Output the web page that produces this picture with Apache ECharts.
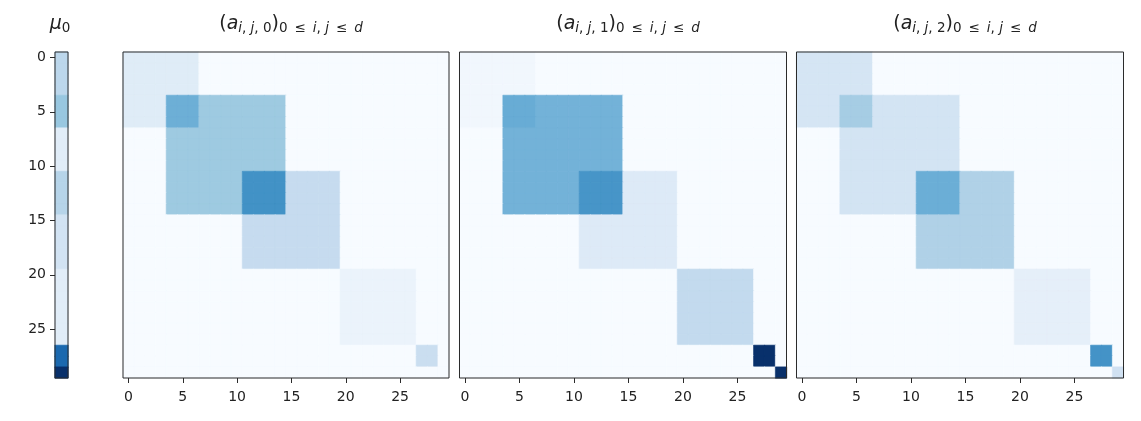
<!DOCTYPE html>
<html>
<head>
<meta charset="utf-8">
<script src="https://cdn.jsdelivr.net/npm/echarts@6/dist/echarts.min.js"></script>
<style>
  html, body { margin: 0; padding: 0; background: #fff; }
  #main { width: 1141px; height: 421px; }
</style>
</head>
<body>
<div id="main"></div>
<script>
// indices 0..29 (d = 29)
const indices = ['0','1','2','3','4','5','6','7','8','9','10','11','12','13','14',
  '15','16','17','18','19','20','21','22','23','24','25','26','27','28','29'];

// diagonal blocks [start, end] shared by all panels
const blockStart = [0, 4, 11, 20, 27, 29];
const blockEnd = [6, 14, 19, 26, 28, 29];

// intensity of each block (0..1 on the Blues scale)
const mu0Block = [0.28, 0.11, 0.19, 0.11, 0.78, 1.0];
const a0Block = [0.12, 0.375, 0.25, 0.06, 0.23, 0.0];
const a1Block = [0.03, 0.48, 0.13, 0.26, 1.0, 1.0];
const a2Block = [0.17, 0.18, 0.32, 0.09, 0.62, 0.2];

const blues = ['#f7fbff', '#deebf7', '#c6dbef', '#9ecae1', '#6baed6',
  '#4292c6', '#2171b5', '#08519c', '#08306b'];

function inBlock(i, k) {
  return i >= blockStart[k] && i <= blockEnd[k];
}

// same colour as the fill on a thin border, hides seams between cells
function cell(x, y, v) {
  return {
    value: [x, y, v],
    itemStyle: { borderColor: echarts.color.lerp(Math.min(v, 1), blues), borderWidth: 0.6 }
  };
}

// a matrix is the sum of its (overlapping) blocks
function matrixData(w) {
  var data = [];
  for (var i = 0; i < indices.length; i++) {
    for (var j = 0; j < indices.length; j++) {
      var v = 0;
      for (var k = 0; k < w.length; k++) {
        if (inBlock(i, k) && inBlock(j, k)) v += w[k];
      }
      data.push(cell(j, i, v));
    }
  }
  return data;
}

function vectorData(w) {
  var data = [];
  for (var i = 0; i < indices.length; i++) {
    var v = 0;
    for (var k = 0; k < w.length; k++) {
      if (inBlock(i, k)) v += w[k];
    }
    data.push(cell(0, i, v));
  }
  return data;
}

const frame = '#2b2b2b';
const font = 'DejaVu Sans';

var grids = [
  { left: 55, top: 52, width: 13, height: 326 },
  { left: 123, top: 52, width: 326, height: 326 },
  { left: 459.5, top: 52, width: 327, height: 326 },
  { left: 796.5, top: 52, width: 327, height: 326 }
].map(function (g) {
  return Object.assign({ show: true, z: 10, borderColor: frame, borderWidth: 1, backgroundColor: 'transparent' }, g);
});

var tickLabel = { interval: 4, margin: 9, fontSize: 14, color: '#222', fontFamily: font };

var xAxes = [{
  type: 'category', gridIndex: 0, data: ['0'],
  axisLine: { show: false }, axisTick: { show: false }, axisLabel: { show: false }, splitLine: { show: false }
}];
var yAxes = [{
  type: 'category', gridIndex: 0, data: indices, inverse: true, z: 10,
  axisLine: { show: false },
  axisTick: { show: true, interval: 4, alignWithLabel: true, length: 5, lineStyle: { color: frame } },
  axisLabel: tickLabel,
  splitLine: { show: false }
}];
for (var p = 1; p <= 3; p++) {
  xAxes.push({
    type: 'category', gridIndex: p, data: indices, position: 'bottom', z: 10,
    axisLine: { show: false },
    axisTick: { show: true, interval: 4, alignWithLabel: true, length: 5, lineStyle: { color: frame } },
    axisLabel: Object.assign({}, tickLabel, { margin: 12 }),
    splitLine: { show: false }
  });
  yAxes.push({
    type: 'category', gridIndex: p, data: indices, inverse: true,
    axisLine: { show: false }, axisTick: { show: false }, axisLabel: { show: false }, splitLine: { show: false }
  });
}

var base = { fontFamily: font, fontWeight: 'normal', color: '#222' };
var rich = {
  m: Object.assign({ fontSize: 19, lineHeight: 22 }, base),
  mi: Object.assign({ fontSize: 19, lineHeight: 22, fontStyle: 'italic' }, base),
  s: Object.assign({ fontSize: 13.5, lineHeight: 12, verticalAlign: 'bottom' }, base),
  si: Object.assign({ fontSize: 13.5, lineHeight: 12, fontStyle: 'italic', verticalAlign: 'bottom' }, base)
};

function panelTitle(n, x) {
  return {
    text: '{m|(}{mi|a}{si|i}{s|, }{si|j}{s|, ' + n + '}{m|)}{s|0 \u2009≤\u2009 }{si|i}{s|, }{si|j}{s| \u2009≤\u2009 }{si|d}',
    left: x, top: 8, textAlign: 'center',
    textStyle: { fontWeight: 'normal', rich: rich }
  };
}

var series = [mu0Block, a0Block, a1Block, a2Block].map(function (w, k) {
  return {
    type: 'heatmap',
    xAxisIndex: k, yAxisIndex: k,
    data: k === 0 ? vectorData(w) : matrixData(w),
    emphasis: { disabled: true },
    silent: true
  };
});

var visualMaps = series.map(function (s, k) {
  return { type: 'continuous', show: false, seriesIndex: k, dimension: 2, min: 0, max: 1, inRange: { color: blues } };
});

var chart = echarts.init(document.getElementById('main'));
chart.setOption({
  animation: false,
  backgroundColor: '#fff',
  title: [
    { text: '{mi|μ}{s|0}', left: 55, top: 8, textAlign: 'center', textStyle: { fontWeight: 'normal', rich: rich } },
    panelTitle('0', 286),
    panelTitle('1', 623),
    panelTitle('2', 960)
  ],
  grid: grids,
  xAxis: xAxes,
  yAxis: yAxes,
  visualMap: visualMaps,
  series: series
});
</script>
</body>
</html>
